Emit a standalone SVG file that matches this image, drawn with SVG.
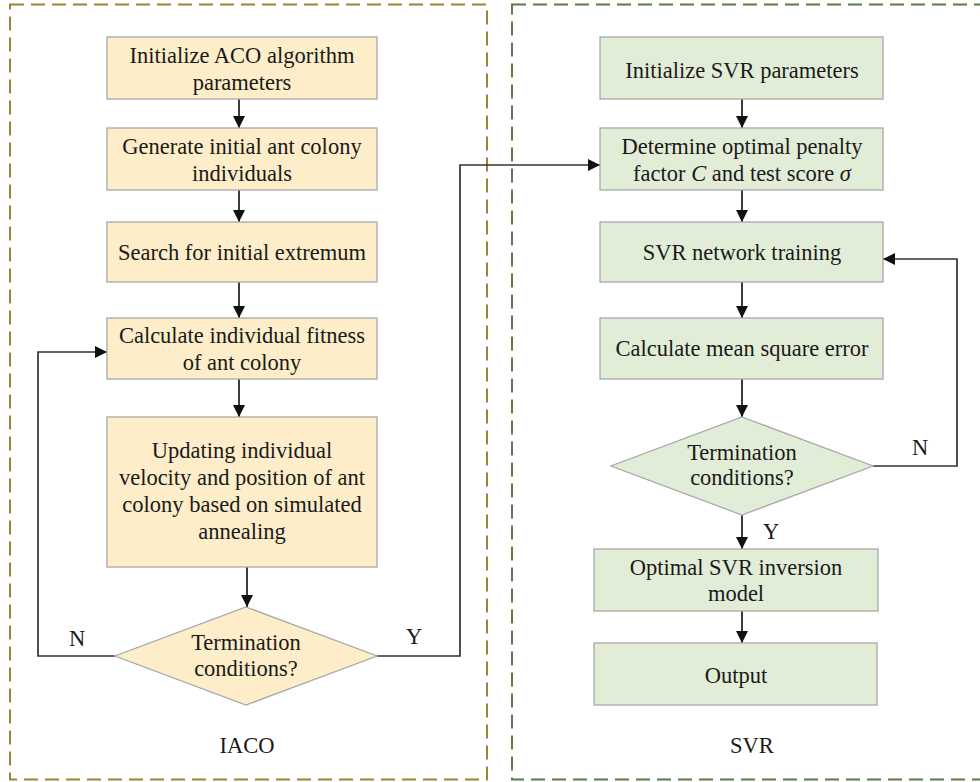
<svg xmlns="http://www.w3.org/2000/svg" width="980" height="782" viewBox="0 0 980 782">
<style>
  text { font-family: "Liberation Serif", "Times New Roman", serif; font-size: 22.5px; fill: #1a1a1a; text-anchor: middle; }
  .frameL { fill: none; stroke: #9a8535; stroke-width: 2; stroke-dasharray: 14 7; }
  .frameR { fill: none; stroke: #5b7a45; stroke-width: 2; stroke-dasharray: 14 7; }
  .nodeL { fill: #fdedc8; stroke: #a8a8a8; stroke-width: 1.3; }
  .nodeR { fill: #e2edd8; stroke: #a8a8a8; stroke-width: 1.3; }
  .conn { fill: none; stroke: #1a1a1a; stroke-width: 1.7; }
  .loop { fill: none; stroke: #333333; stroke-width: 1.7; }
</style>
<defs>
  <marker id="arr" viewBox="0 0 12 12" refX="12" refY="6" markerWidth="12" markerHeight="12" markerUnits="userSpaceOnUse" orient="auto">
    <path d="M0,0 L12,6 L0,12 Z" fill="#111111"/>
  </marker>
</defs>
<rect width="980" height="782" fill="#ffffff"/>
<g id="frames">
  <rect class="frameL" x="10" y="4.5" width="477" height="775"/>
  <rect class="frameR" x="512" y="4.5" width="490" height="775"/>
  <text x="247" y="753">IACO</text>
  <text x="752" y="753">SVR</text>
</g>
<g id="connectors">
  <line class="conn" x1="239" y1="99" x2="239" y2="128" marker-end="url(#arr)"/>
  <line class="conn" x1="239" y1="190" x2="239" y2="222" marker-end="url(#arr)"/>
  <line class="conn" x1="239" y1="282" x2="239" y2="318" marker-end="url(#arr)"/>
  <line class="conn" x1="239" y1="379" x2="239" y2="417" marker-end="url(#arr)"/>
  <line class="conn" x1="247" y1="567" x2="247" y2="607" marker-end="url(#arr)"/>
  <polyline class="loop" points="115,656 38,656 38,352 107,352" marker-end="url(#arr)"/>
  <polyline class="loop" points="377,656 460,656 460,165 600,165" marker-end="url(#arr)"/>
  <line class="conn" x1="742" y1="99" x2="742" y2="128" marker-end="url(#arr)"/>
  <line class="conn" x1="742" y1="190" x2="742" y2="222" marker-end="url(#arr)"/>
  <line class="conn" x1="742" y1="282" x2="742" y2="318" marker-end="url(#arr)"/>
  <line class="conn" x1="742" y1="379" x2="742" y2="417" marker-end="url(#arr)"/>
  <line class="conn" x1="742" y1="515" x2="742" y2="549" marker-end="url(#arr)"/>
  <line class="conn" x1="742" y1="611" x2="742" y2="643" marker-end="url(#arr)"/>
  <polyline class="loop" points="873,466 957,466 957,259 883,259" marker-end="url(#arr)"/>
  <text x="77" y="646">N</text>
  <text x="414" y="644">Y</text>
  <text x="920" y="455">N</text>
  <text x="771" y="539">Y</text>
</g>
<g id="n-init-aco">
  <rect class="nodeL" x="107" y="37" width="270" height="62"/>
  <text x="242" y="63">Initialize ACO algorithm</text>
  <text x="242" y="90">parameters</text>
</g>
<g id="n-generate">
  <rect class="nodeL" x="107" y="128" width="270" height="62"/>
  <text x="242" y="154">Generate initial ant colony</text>
  <text x="242" y="181">individuals</text>
</g>
<g id="n-search">
  <rect class="nodeL" x="107" y="222" width="270" height="60"/>
  <text x="242" y="260">Search for initial extremum</text>
</g>
<g id="n-fitness">
  <rect class="nodeL" x="107" y="318" width="270" height="61"/>
  <text x="242" y="343">Calculate individual fitness</text>
  <text x="242" y="370">of ant colony</text>
</g>
<g id="n-update">
  <rect class="nodeL" x="107" y="417" width="270" height="150"/>
  <text x="242" y="458">Updating individual</text>
  <text x="242" y="485">velocity and position of ant</text>
  <text x="242" y="512">colony based on simulated</text>
  <text x="242" y="539">annealing</text>
</g>
<g id="n-term-aco">
  <polygon class="nodeL" points="246,607 377,656 246,705 115,656"/>
  <text x="246" y="650">Termination</text>
  <text x="246" y="676">conditions?</text>
</g>
<g id="n-init-svr">
  <rect class="nodeR" x="600" y="37" width="283" height="62"/>
  <text x="742" y="78">Initialize SVR parameters</text>
</g>
<g id="n-determine">
  <rect class="nodeR" x="600" y="128" width="283" height="62"/>
  <text x="742" y="154">Determine optimal penalty</text>
  <text x="742" y="181">factor <tspan font-style="italic">C</tspan> and test score <tspan font-style="italic">σ</tspan></text>
</g>
<g id="n-training">
  <rect class="nodeR" x="600" y="222" width="283" height="60"/>
  <text x="742" y="260">SVR network training</text>
</g>
<g id="n-mse">
  <rect class="nodeR" x="600" y="318" width="283" height="61"/>
  <text x="742" y="356">Calculate mean square error</text>
</g>
<g id="n-term-svr">
  <polygon class="nodeR" points="742,417 873,466 742,515 611,466"/>
  <text x="742" y="460">Termination</text>
  <text x="742" y="485">conditions?</text>
</g>
<g id="n-optimal">
  <rect class="nodeR" x="594" y="549" width="284" height="62"/>
  <text x="736" y="575">Optimal SVR inversion</text>
  <text x="736" y="601">model</text>
</g>
<g id="n-output">
  <rect class="nodeR" x="594" y="643" width="283" height="62"/>
  <text x="736" y="683">Output</text>
</g>
</svg>
